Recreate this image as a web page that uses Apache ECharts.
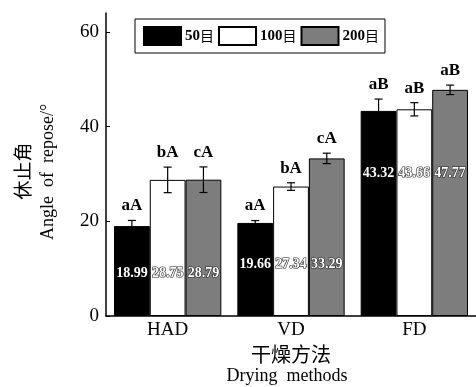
<!DOCTYPE html>
<html>
<head>
<meta charset="utf-8">
<script src="https://cdn.jsdelivr.net/npm/echarts@6/dist/echarts.min.js"></script>
<style>
  html, body { margin: 0; padding: 0; background: #fff; }
  #chart { width: 476px; height: 387px; }
</style>
</head>
<body>
<div id="chart"></div>
<script>
const categories = ["HAD", "VD", "FD"];
const meshNames = ["50目", "100目", "200目"];
const mesh50 = [18.99, 19.66, 43.32];
const mesh100 = [28.75, 27.34, 43.66];
const mesh200 = [28.79, 33.29, 47.77];
const err50 = [1.2, 0.5, 2.5];
const err100 = [2.7, 0.8, 1.4];
const err200 = [2.7, 1.1, 1.0];
const letters50 = ["aA", "aA", "aB"];
const letters100 = ["bA", "bA", "aB"];
const letters200 = ["cA", "cA", "aB"];

const colors = ["#000000", "#ffffff", "#7d7d7d"];
const serif = "'Liberation Serif', 'Times New Roman', serif";
const cjk = "'Noto Sans CJK SC', 'Liberation Serif', serif";
const catGap = 0.13;
// height (axis units) where each group's value labels sit
const labelAt = [9.1, 11.0, 30.2];

const values = [mesh50, mesh100, mesh200];
const errs = [err50, err100, err200];
const letters = [letters50, letters100, letters200];

const chart = echarts.init(document.getElementById("chart"));

// error bars, significance letters and value labels, one custom series per mesh
const errSeries = values.map((vals, s) => ({
  type: "custom",
  name: "err" + s,
  z: 5,
  data: vals.map((v, i) => [i, v, errs[s][i], letters[s][i]]),
  renderItem: (params, api) => {
    const cat = api.value(0);
    const v = api.value(1);
    const e = api.value(2);
    const band = api.size([1, 0])[0];
    const w = band * (1 - catGap) / 3;
    const cx = api.coord([cat, v])[0] + (s - 1) * w;
    const top = api.coord([cat, v + e])[1];
    const bot = api.coord([cat, v - e])[1];
    const ly = api.coord([cat, labelAt[cat]])[1];
    const cap = 4;
    const st = { stroke: "#000", lineWidth: 1.2 };
    return {
      type: "group",
      children: [
        { type: "line", shape: { x1: cx, y1: top, x2: cx, y2: bot }, style: st },
        { type: "line", shape: { x1: cx - cap, y1: top, x2: cx + cap, y2: top }, style: st },
        { type: "line", shape: { x1: cx - cap, y1: bot, x2: cx + cap, y2: bot }, style: st },
        {
          type: "text",
          style: {
            x: cx, y: top - 6,
            text: api.value(3),
            textAlign: "center", textVerticalAlign: "bottom",
            font: "bold 17px " + serif,
            fill: "#000"
          }
        },
        {
          type: "text",
          style: {
            x: cx, y: ly,
            text: v.toFixed(2),
            textAlign: "center", textVerticalAlign: "middle",
            font: "bold 14px " + serif,
            fill: "#fff",
            stroke: s === 0 ? null : "#222",
            lineWidth: s === 0 ? 0 : 1.2
          }
        }
      ]
    };
  }
}));

const barSeries = values.map((vals, s) => ({
  type: "bar",
  name: meshNames[s],
  data: vals,
  barGap: "0%",
  barCategoryGap: (catGap * 100) + "%",
  itemStyle: { color: colors[s], borderColor: "#000", borderWidth: 1 }
}));

chart.setOption({
  animation: false,
  backgroundColor: "#fff",
  grid: { left: 106, right: -11, top: 13, bottom: 71 },
  legend: {
    data: meshNames.map(n => ({ name: n, icon: "rect" })),
    left: 135,
    top: 19,
    padding: [7, 6, 7, 8],
    borderColor: "#000",
    borderWidth: 1,
    itemWidth: 37,
    itemHeight: 18,
    itemGap: 4,
    formatter: n => "{n|" + n.replace("目", "") + "}{c|目}",
    textStyle: {
      color: "#000",
      padding: [0, 0, 0, -1],
      rich: {
        n: { fontFamily: serif, fontWeight: "bold", fontSize: 15, color: "#000" },
        c: { fontFamily: cjk, fontSize: 14, color: "#000" }
      }
    }
  },
  xAxis: {
    type: "category",
    data: categories,
    axisLine: { lineStyle: { color: "#000", width: 1.5 } },
    axisTick: { show: false },
    axisLabel: { color: "#000", fontFamily: serif, fontSize: 19, margin: 5 },
    name: "干燥方法",
    nameLocation: "middle",
    nameGap: 27,
    nameTextStyle: { color: "#000", fontFamily: cjk, fontSize: 20 }
  },
  yAxis: {
    type: "value",
    min: 0,
    max: 64,
    interval: 20,
    axisLine: { show: true, lineStyle: { color: "#000", width: 1.5 } },
    axisTick: { show: true, inside: true, length: 4, lineStyle: { color: "#000" } },
    axisLabel: { color: "#000", fontFamily: serif, fontSize: 19, margin: 7, showMaxLabel: false },
    splitLine: { show: false }
  },
  graphic: [
    {
      type: "text",
      x: 287, y: 376,
      style: { text: "Drying  methods", font: "18px " + serif, fill: "#000", textAlign: "center", textVerticalAlign: "middle" }
    },
    {
      type: "text",
      x: 23, y: 171, rotation: Math.PI / 2,
      style: { text: "休止角", font: "19px " + cjk, fill: "#000", textAlign: "center", textVerticalAlign: "middle" }
    },
    {
      type: "text",
      x: 48, y: 172, rotation: Math.PI / 2,
      style: { text: "Angle  of  repose/°", font: "18px " + serif, fill: "#000", textAlign: "center", textVerticalAlign: "middle" }
    }
  ],
  series: [...barSeries, ...errSeries]
});
</script>
</body>
</html>
